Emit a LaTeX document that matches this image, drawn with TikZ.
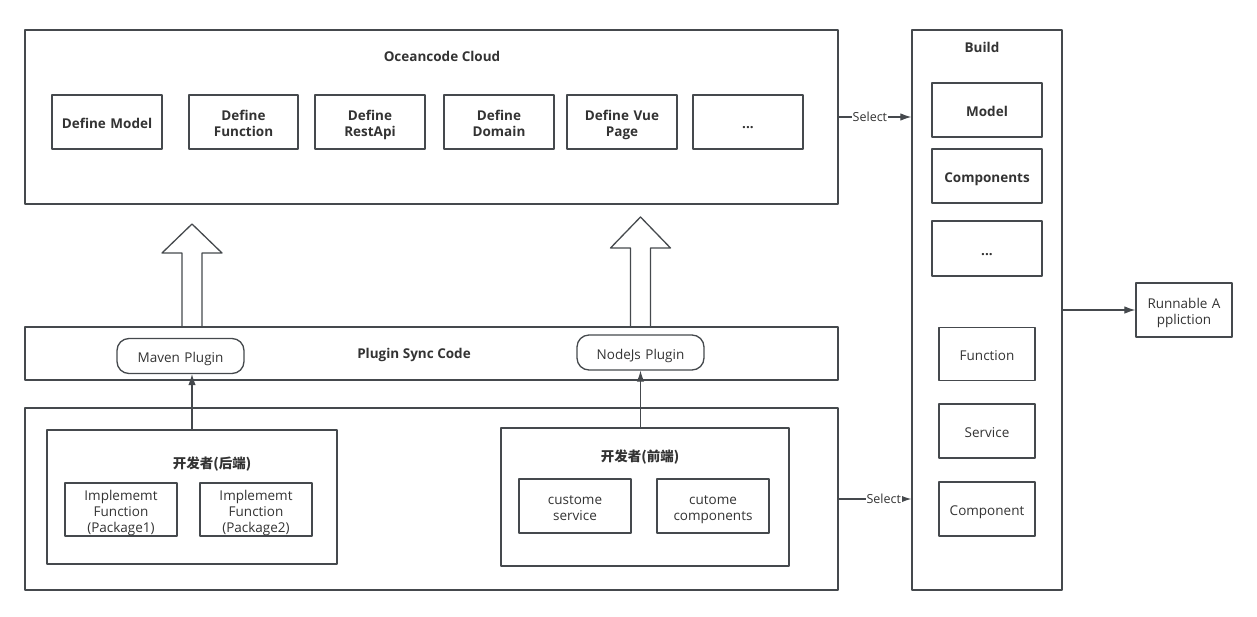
\documentclass[tikz,border=0pt]{standalone}
\usepackage{fontspec}
\setmainfont{Open Sans}
\newfontfamily\cjk{Noto Sans CJK SC}
\usetikzlibrary{arrows.meta}
\definecolor{linegray}{HTML}{45494D}
\definecolor{textgray}{HTML}{333333}
\begin{document}
\begin{tikzpicture}[x=1pt, y=-1pt, line join=round, >={Latex[length=11pt,width=7.5pt]},
		font=\fontsize{13.5}{16}\selectfont, text=textgray,
		box/.style={draw=linegray, line width=1.3pt, align=center, inner xsep=2pt, inner ysep=0pt,
			execute at begin node={\rule{0pt}{16.5pt}}, execute at end node={\rule[-3.5pt]{0pt}{3.5pt}}},
		wh/.style 2 args={minimum width=#1, minimum height=#2, text width=#1-8},
		plugin/.style={box, rounded corners=12pt, wh={127}{35}},
		title/.style={font=\fontsize{13.5}{16}\selectfont\bfseries},
		conn/.style={draw=linegray, line width=1.1pt}]
		\useasboundingbox (0,0) rectangle (1257,616);
		% Oceancode Cloud
		\node[box, wh={813}{174}] (cloud) at (431.5,117) {};
		\node[title] (cloudtitle) at (442,56) {Oceancode Cloud};
		\node[box, title, wh={110}{54}] (dmodel) at (107,122) {Define Model};
		\node[box, title, wh={109}{54}] (dfunc) at (243.5,122) {Define\\Function};
		\node[box, title, wh={110}{54}] (drest) at (370,122) {Define\\RestApi};
		\node[box, title, wh={110}{54}] (ddomain) at (499,122) {Define\\Domain};
		\node[box, title, wh={110}{54}] (dvue) at (622,122) {Define Vue\\Page};
		\node[box, title, wh={110}{54}] (dmore) at (748,122) {...};
		% Build
		\node[box, wh={150}{560}] (build) at (987,310) {};
		\node[title] (buildtitle) at (982,47) {Build};
		\node[box, title, wh={110}{54}] (bmodel) at (987,110) {Model};
		\node[box, title, wh={110}{54}] (bcomps) at (987,176) {Components};
		\node[box, title, wh={110}{55}] (bmore) at (987,248.5) {...};
		\node[box, wh={96}{53}] (bfunc) at (987,354) {Function};
		\node[box, wh={96}{54}] (bserv) at (987,431) {Service};
		\node[box, wh={96}{54}] (bcomp) at (987,509) {Component};
		\node[box, wh={96}{54}] (app) at (1184,310) {Runnable A\\ppliction};
		% Plugin Sync Code
		\node[box, wh={813}{53}] (sync) at (431.5,353.5) {};
		\node[title] (synctitle) at (414,355) {Plugin Sync Code};
		\node[plugin] (maven) at (180.5,356) {Maven Plugin};
		\node[plugin] (nodejs) at (640.5,352.5) {NodeJs Plugin};
		% developers
		\node[box, wh={813}{182}] (dev) at (431.5,499) {};
		\node[box, wh={290}{134}] (back) at (192,497) {};
		\node[title] (backtitle) at (212,464) {\cjk\bfseries 开发者(后端)};
		\node[box, wh={112}{53}] (impl1) at (121,509.5) {Implememt\\Function\\(Package1)};
		\node[box, wh={112}{53}] (impl2) at (256,509.5) {Implememt\\Function\\(Package2)};
		\node[box, wh={288}{138}] (front) at (645,497) {};
		\node[title] (fronttitle) at (640,457) {\cjk\bfseries 开发者(前端)};
		\node[box, wh={112}{54}] (csrv) at (575,506) {custome\\service};
		\node[box, wh={112}{54}] (ccomp) at (713,506) {cutome\\components};
		% hollow arrows
		\foreach \cx/\tip/\base in {192/224/253, 640.5/217/248}
			\draw[draw=linegray, line width=1.3pt] (\cx-10,327) -- (\cx-10,\base) -- (\cx-30,\base) -- (\cx,\tip) -- (\cx+30,\base) -- (\cx+10,\base) -- (\cx+10,327);
		% connectors
		\draw[conn, ->] (back.north) -- (back.north |- maven.south);
		\draw[conn, ->] (nodejs.south |- front.north) -- (nodejs.south);
		\draw[conn, ->] (cloud.east) -- node[pos=0.43, fill=white, inner sep=1pt, font=\fontsize{12.5}{14}\selectfont]{Select} (cloud.east -| build.west);
		\draw[conn, ->] (dev.east) -- node[pos=0.62, fill=white, inner sep=1pt, font=\fontsize{12.5}{14}\selectfont]{Select} (dev.east -| build.west);
		\draw[conn, ->] (build.east) -- (app.west);
	\end{tikzpicture}
\end{document}
